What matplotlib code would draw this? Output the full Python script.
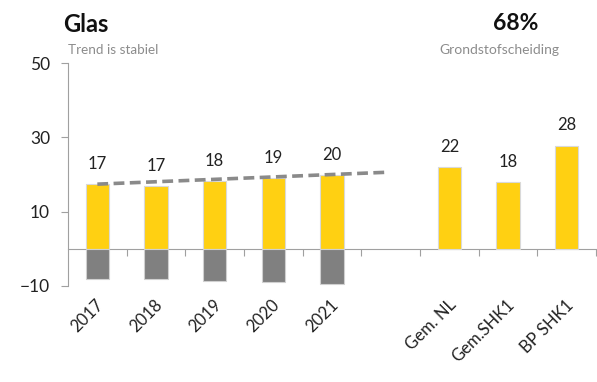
import matplotlib
matplotlib.use("Agg")
import matplotlib.pyplot as plt
import matplotlib.transforms as mtransforms
import numpy as np

plt.rcParams['font.family'] = ['Lato', 'DejaVu Sans']

categories = ['2017', '2018', '2019', '2020', '2021', '', 'Gem. NL', 'Gem.SHK1', 'BP SHK1']
yellow_values = [17.4, 17.0, 18.2, 19.0, 19.9, np.nan, 22.0, 18.0, 27.8]
yellow_labels = ['17', '17', '18', '19', '20', '', '22', '18', '28']
gray_values = [-8.1, -8.2, -8.7, -9.0, -9.4, np.nan, np.nan, np.nan, np.nan]
trend_x = [0, 4.93]
trend_y = [17.4, 20.6]
yticks = [-10, 10, 30, 50]

YELLOW = '#FFD012'
GRAY = '#808080'

fig = plt.figure(figsize=(5.97, 3.82), dpi=100)
ax = fig.add_axes([68/597, 1-286/382, (596-68)/597, (286-63)/382])

x = np.arange(len(categories))
ax.bar(x, yellow_values, width=0.4, color=YELLOW, edgecolor='#d9d9d9', linewidth=0.8, zorder=2)
ax.bar(x, gray_values, width=0.4, color=GRAY, edgecolor='#d0d0d0', linewidth=0.8, zorder=2)
ax.plot(trend_x, trend_y, color='#8a8a8a', lw=2.6, ls=(0, (3, 1.5)), zorder=3)

for xi, v, lab in zip(x, yellow_values, yellow_labels):
    if lab:
        ax.annotate(lab, (xi, v), xytext=(0, 14.5), textcoords='offset points',
                    ha='center', va='center', fontsize=12, color='#222222')

ax.set_xlim(-0.5, len(categories) - 0.5)
ax.set_ylim(-10, 50)
ax.set_yticks(yticks)
ax.tick_params(axis='y', length=5, color='#a0a0a0', labelsize=12.5, pad=8, labelcolor='#222222')
for s in ['top', 'right', 'bottom']:
    ax.spines[s].set_visible(False)
ax.spines['left'].set_color('#a0a0a0')

ax.set_xticks(x)
ax.set_xticklabels(categories, rotation=45, ha='right', va='center', rotation_mode='anchor',
                   fontsize=12, color='#222222')
ax.tick_params(axis='x', length=0, pad=12)
off = mtransforms.ScaledTranslation(4/100, 0, fig.dpi_scale_trans)
for lbl in ax.get_xticklabels():
    lbl.set_transform(lbl.get_transform() + off)

sec = ax.secondary_xaxis(1/6)
sec.set_xticks(np.arange(0.5, len(categories), 1))
sec.set_xticklabels([])
sec.tick_params(axis='x', length=5, color='#a0a0a0', direction='out')
sec.spines['bottom'].set_color('#a0a0a0')

fig.text(63/597, 1-24/382, 'Glas', fontsize=17, fontweight='bold', va='center', ha='left', color='#111111')
fig.text(68/597, 1-50/382, 'Trend is stabiel', fontsize=9.7, va='center', ha='left', color='#8c8c8c')
fig.text(516/597, 1-24/382, '68%', fontsize=16.5, fontweight='bold', va='center', ha='center', color='#111111')
fig.text(499/597, 1-50/382, 'Grondstofscheiding', fontsize=10, va='center', ha='center', color='#8c8c8c')

fig.savefig('out.png', dpi=100)
